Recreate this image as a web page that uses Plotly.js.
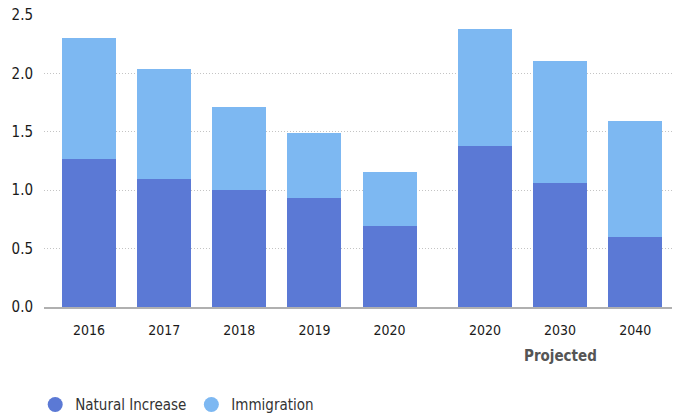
<!DOCTYPE html>
<html>
<head>
<meta charset="utf-8">
<script src="https://cdn.plot.ly/plotly-3.0.1.min.js"></script>
<style>html,body{margin:0;padding:0;background:#fff;}#chart{width:683px;height:418px;}</style>
</head>
<body>
<div id="chart"></div>
<script>
// Data (millions)
const years = ["2016", "2017", "2018", "2019", "2020", "2020", "2030", "2040"];
const projected = [false, false, false, false, false, true, true, true];
const naturalIncrease = [1.27, 1.10, 1.00, 0.93, 0.69, 1.38, 1.06, 0.60];
const immigration = [1.03, 0.94, 0.71, 0.56, 0.47, 1.00, 1.05, 0.99];
const groupLabel = "Projected";

// Layout helpers: slot index with extra spacing before the projected group
const groupGap = 0.27;
const xs = years.map((_, i) => i + (projected[i] ? groupGap : 0));
const projIdx = projected.map((p, i) => p ? xs[i] : null).filter(v => v !== null);
const projCenter = projIdx[Math.floor(projIdx.length / 2)];

const font = "'DejaVu Sans Condensed', 'Liberation Sans Narrow', 'Arial Narrow', sans-serif";
const cNat = "#5b79d5";
const cImm = "#7db8f2";

const traces = [
  {type: "bar", x: xs, y: naturalIncrease, name: "Natural Increase", marker: {color: cNat}, width: 0.72, showlegend: false, hoverinfo: "skip"},
  {type: "bar", x: xs, y: immigration, name: "Immigration", marker: {color: cImm}, width: 0.72, showlegend: false, hoverinfo: "skip"},
  {type: "scatter", mode: "markers", x: [null], y: [null], name: "Natural Increase", marker: {color: cNat, size: 15, symbol: "circle"}},
  {type: "scatter", mode: "markers", x: [null], y: [null], name: "Immigration", marker: {color: cImm, size: 15, symbol: "circle"}}
];

const layout = {
  width: 683, height: 418,
  margin: {l: 44, r: 11, t: 15, b: 111, autoexpand: false},
  paper_bgcolor: "#fff", plot_bgcolor: "#fff",
  barmode: "stack",
  font: {family: font, color: "#333", size: 15},
  xaxis: {
    range: [-0.6, xs[xs.length - 1] + 0.49],
    tickvals: xs, ticktext: years,
    showgrid: false, zeroline: false,
    showline: true, linecolor: "#b0b0b0", linewidth: 1.5,
    ticks: "", tickfont: {family: font, size: 14, color: "#1a1a1a"},
    ticklabelstandoff: 10
  },
  yaxis: {
    range: [0, 2.5], dtick: 0.5, tickformat: ".1f",
    showgrid: true, gridcolor: "#c4c4c4", griddash: "1px,2px", gridwidth: 1,
    zeroline: false, showline: false, ticks: "",
    tickfont: {family: font, size: 15, color: "#1a1a1a"},
    ticklabelstandoff: 10
  },
  showlegend: true,
  legend: {
    orientation: "h", x: -0.014, xanchor: "left", y: -0.335, yanchor: "middle",
    traceorder: "normal",
    font: {family: font, size: 15, color: "#333"},
    itemsizing: "trace", itemwidth: 30, tracegroupgap: 0
  },
  annotations: [{
    xref: "x", yref: "paper", x: projCenter, y: -0.168, yanchor: "middle",
    text: "<b>" + groupLabel + "</b>", showarrow: false,
    font: {family: font, size: 15, color: "#555"}
  }]
};

Plotly.newPlot("chart", traces, layout, {displayModeBar: false, staticPlot: true});
</script>
</body>
</html>
